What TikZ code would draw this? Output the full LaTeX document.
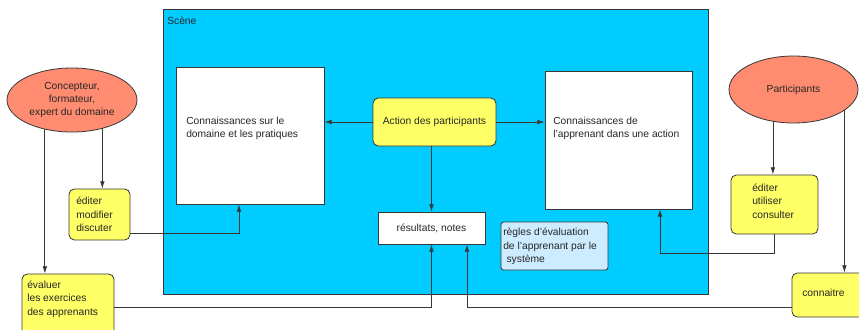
\documentclass[tikz,border=0pt]{standalone}
\usepackage{fontspec}
\setmainfont{Liberation Sans}
\usetikzlibrary{shapes.geometric,arrows.meta,calc}
\definecolor{scenecyan}{RGB}{0,204,255}
\definecolor{boxyellow}{RGB}{255,255,102}
\definecolor{actorred}{RGB}{255,140,112}
\definecolor{rulesblue}{RGB}{206,236,255}
\definecolor{linegray}{RGB}{55,55,55}
\tikzset{
  scenebox/.style={draw=linegray, fill=scenecyan, line width=0.6pt},
  whitebox/.style={draw=linegray, fill=white, line width=0.6pt},
  yellowbox/.style={draw=linegray, fill=boxyellow, rounded corners=4pt, line width=0.6pt},
  actor/.style={ellipse, draw=linegray, fill=actorred, line width=0.6pt, inner sep=0pt, outer sep=0pt, align=center},
  rulesbox/.style={draw=linegray, fill=rulesblue, rounded corners=2pt, line width=0.6pt},
  txt/.style={inner sep=0pt, align=left, anchor=west},
  link/.style={draw=linegray, line width=0.6pt, ->},
}
\begin{document}
\begin{tikzpicture}[x=0.75pt, y=-0.75pt, font=\fontsize{7.7}{10}\selectfont, text=black!85,
  >={Latex[length=5.5pt,width=3.5pt]}]
\useasboundingbox (0,0) rectangle (859,329);
\clip (0,0) rectangle (859,329);
% scene
\draw[scenebox] (163,9) rectangle (708,294);
\node[txt] (scenelbl) at (167,21){Scène};
% boxes in the scene
\node[whitebox, minimum width=111pt, minimum height=102.75pt] (kdom) at (250,135.5){};
\node[txt] (kdomtxt) at (186,128.5){Connaissances sur le\\domaine et les pratiques};
\node[whitebox, minimum width=110.25pt, minimum height=103.5pt] (kapp) at (618.5,140){};
\node[txt] (kapptxt) at (553,128.5){Connaissances de\\l'apprenant dans une action};
\node[yellowbox, minimum width=92.25pt, minimum height=36pt] (act) at (434.5,122){Action des participants};
\node[whitebox, minimum width=80.25pt, minimum height=24pt] (res) at (431.5,228){résultats, notes};
\node[rulesbox, minimum width=80.25pt, minimum height=36pt] (regl) at (554.5,246){};
\node[txt] (regltxt) at (503,246.5){règles d'évaluation\\de l'apprenant par le\\\hspace*{2.5pt}système};
% actors
\node[actor, minimum width=97.5pt, minimum height=48pt] (con) at (72,100){Concepteur,\\formateur,\\expert du domaine};
\node[actor, minimum width=96.75pt, minimum height=50.25pt] (par) at (793.5,89.5){Participants};
% activities
\node[yellowbox, minimum width=45.75pt, minimum height=38.25pt] (edm) at (99.5,214.5){};
\node[txt] (edmtxt) at (76,214.5){éditer\\modifier\\discuter};
\node[yellowbox, minimum width=69pt, minimum height=49.5pt] (eval) at (68,307){};
\node[txt] (evaltxt) at (27,299){évaluer\\les exercices\\des apprenants};
\node[yellowbox, minimum width=65.25pt, minimum height=44.25pt] (edu) at (774.5,204.5){};
\node[txt] (edutxt) at (752,201){éditer\\utiliser\\consulter};
\node[yellowbox, minimum width=60pt, minimum height=33pt] (conn) at (832,295){};
\node[txt] (conntxt) at (802,293){connaitre};
% links
\draw[link](act.west) -- (act.west -| kdom.east);
\draw[link](act.east) -- (act.east -| kapp.west);
\draw[link](res.north |- act.south) -- (res.north);
\draw[link](con.-43) -- (con.-43 |- edm.north);
\draw[link](con.227) -- (con.227 |- eval.north);
\draw[link]($(edm.south east)+(0,-7)$) -| ($(kdom.south)+(-11,0)$);
\draw[link](eval.east) -| (res.south);
\draw[link](par.237) -- (par.237 |- edu.north);
\draw[link](par.338) -- (par.338 |- conn.north);
\draw[link](edu.south) -- ++(0,19) -| ($(kapp.south)+(41.5,0)$);
\draw[link]($(conn.south west)+(0,-10)$) -| ($(res.south)+(35.5,0)$);

\end{tikzpicture}
\end{document}
